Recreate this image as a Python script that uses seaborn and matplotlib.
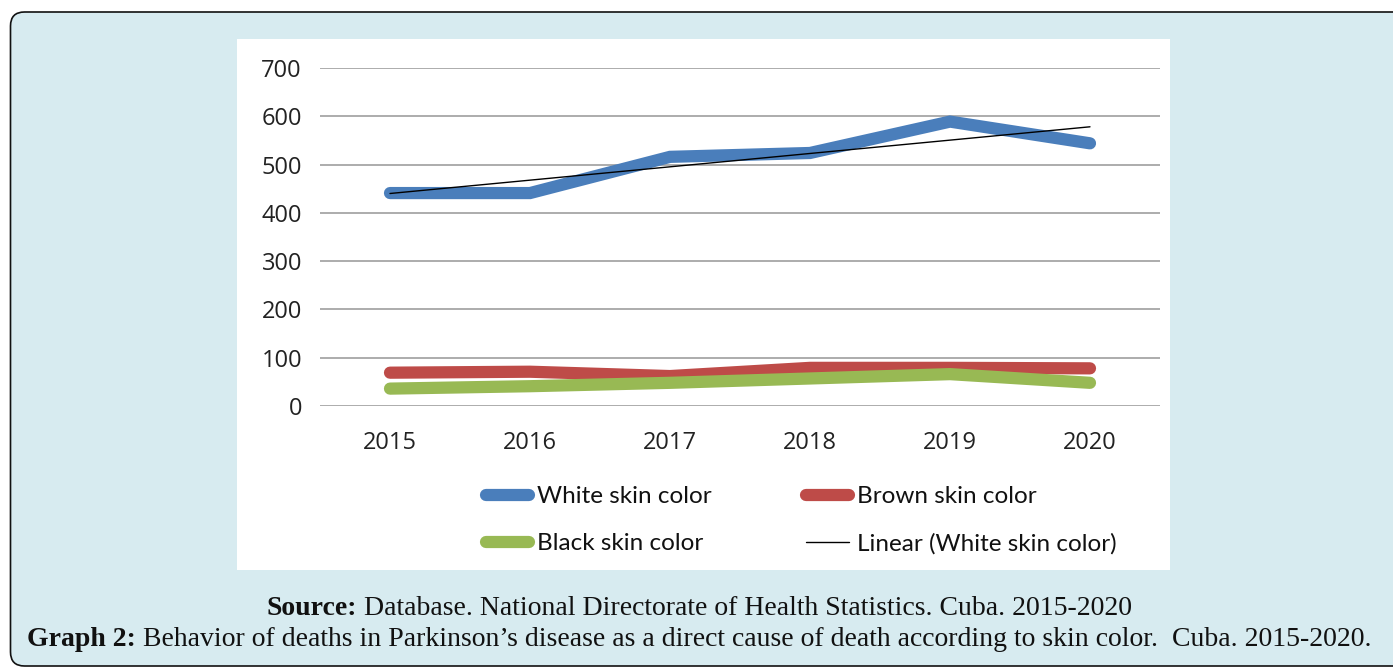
import numpy as np
import pandas as pd
import matplotlib
matplotlib.use("Agg")
import matplotlib.pyplot as plt
import seaborn as sns
from matplotlib.patches import FancyBboxPatch, Rectangle
from matplotlib.lines import Line2D
from matplotlib.transforms import IdentityTransform

# ---- data -------------------------------------------------------------
years = [2015, 2016, 2017, 2018, 2019, 2020]
white_skin = [441, 441, 516, 524, 589, 544]
brown_skin = [69, 71, 62, 79, 79, 78]
black_skin = [36, 41, 48, 57, 66, 48]
series_labels = ["White skin color", "Brown skin color", "Black skin color"]
trend_label = "Linear (White skin color)"
y_ticks = [0, 100, 200, 300, 400, 500, 600, 700]

source_bold = "Source:"
source_text = " Database. National Directorate of Health Statistics. Cuba. 2015-2020"
graph_bold = "Graph 2:"
graph_text = (" Behavior of deaths in Parkinson\u2019s disease as a direct cause of death "
              "according to skin color.  Cuba. 2015-2020.")

colors = {"White skin color": "#4A7EBB",
          "Brown skin color": "#BE4B48",
          "Black skin color": "#98B954"}

df = pd.DataFrame({
    "year": years * 3,
    "deaths": white_skin + brown_skin + black_skin,
    "group": [series_labels[0]] * 6 + [series_labels[1]] * 6 + [series_labels[2]] * 6,
})

# ---- figure & panels --------------------------------------------------
W, H = 1393, 669
sns.set_theme(style="white")
fig = plt.figure(figsize=(W / 100, H / 100), dpi=100)
fig.patch.set_facecolor("white")


def fx(px):
    return px / W


def fy(py):
    return 1 - py / H


# light-blue rounded frame (pixel coordinates, origin bottom-left)
frame = FancyBboxPatch((10.5, H - 666), 1420, 654,
                       boxstyle="round,pad=0,rounding_size=14",
                       transform=IdentityTransform(),
                       facecolor="#D7EBF0", edgecolor="#111111", linewidth=1.2,
                       zorder=-3)
fig.patches.append(frame)

# white chart area
chart_bg = Rectangle((fx(237), fy(570)), fx(1170) - fx(237), fy(39) - fy(570),
                     transform=fig.transFigure, facecolor="white", edgecolor="none",
                     zorder=-2)
fig.patches.append(chart_bg)

# ---- axes -------------------------------------------------------------
ax = fig.add_axes([fx(320), fy(406), fx(1160) - fx(320), fy(68) - fy(406)])
ax.set_facecolor("none")

sns.lineplot(data=df, x="year", y="deaths", hue="group", hue_order=series_labels,
             palette=colors, linewidth=8.8, legend=False, ax=ax, zorder=3)
for ln in ax.get_lines():
    ln.set_solid_capstyle("round")
    ln.set_solid_joinstyle("miter")

sns.regplot(x=np.array(years), y=np.array(white_skin), scatter=False, ci=None,
            truncate=True, color="black", line_kws={"linewidth": 1.0, "zorder": 4}, ax=ax)

ax.set_xlim(2014.5, 2020.5)
ax.set_ylim(0, 700)
ax.set_xticks(years)
ax.set_xticklabels([str(y) for y in years])
ax.set_yticks(y_ticks)
ax.set_xlabel("")
ax.set_ylabel("")
ax.yaxis.grid(True, color="#A6A6A6", linewidth=1.3, zorder=0)
ax.xaxis.grid(False)
ax.set_axisbelow(True)
for s in ax.spines.values():
    s.set_visible(False)
ax.tick_params(axis="both", length=0, labelsize=17, colors="#222222")
ax.tick_params(axis="y", pad=13)
ax.tick_params(axis="x", pad=18)
for lab in ax.get_xticklabels() + ax.get_yticklabels():
    lab.set_family(["Open Sans", "DejaVu Sans"])

# ---- legend -----------------------------------------------------------
handles = [
    Line2D([], [], color=colors[series_labels[0]], lw=8.8, solid_capstyle="round"),
    Line2D([], [], color=colors[series_labels[2]], lw=8.8, solid_capstyle="round"),
    Line2D([], [], color=colors[series_labels[1]], lw=8.8, solid_capstyle="round"),
    Line2D([], [], color="black", lw=1.0),
]
labels = [series_labels[0], series_labels[2], series_labels[1], trend_label]
leg = fig.legend(handles, labels, ncol=2, loc="upper left",
                 bbox_to_anchor=(fx(486), fy(486)), frameon=False,
                 prop={"family": ["Lato", "DejaVu Sans"], "size": 17.5},
                 handlelength=1.77, handletextpad=0.33, columnspacing=3.9,
                 labelspacing=1.07, borderpad=0, borderaxespad=0)
for t in leg.get_texts():
    t.set_color("#111111")

# ---- caption ----------------------------------------------------------
serif = ["Liberation Serif", "DejaVu Serif"]
renderer = fig.canvas.get_renderer()


def caption(bold, regular, baseline_px, size):
    tb = fig.text(0, fy(baseline_px), bold, fontsize=size, fontweight="bold",
                  family=serif, va="baseline", ha="left", color="#111111")
    tr = fig.text(0, fy(baseline_px), regular, fontsize=size,
                  family=serif, va="baseline", ha="left", color="#111111")
    return tb, tr


def width_of(parts):
    return sum(p.get_window_extent(renderer).width for p in parts)


base = 16
probe = caption(graph_bold, graph_text, 646, base)
size = base * 1346 / width_of(probe)
for p in probe:
    p.remove()

for bold, regular, bl in [(source_bold, source_text, 615), (graph_bold, graph_text, 646)]:
    tb, tr = caption(bold, regular, bl, size)
    wb = tb.get_window_extent(renderer).width
    wr = tr.get_window_extent(renderer).width
    x0 = (W / 2 + 3) - (wb + wr) / 2
    tb.set_x(fx(x0))
    tr.set_x(fx(x0 + wb))

fig.savefig("out.png", dpi=100, facecolor=fig.get_facecolor())
